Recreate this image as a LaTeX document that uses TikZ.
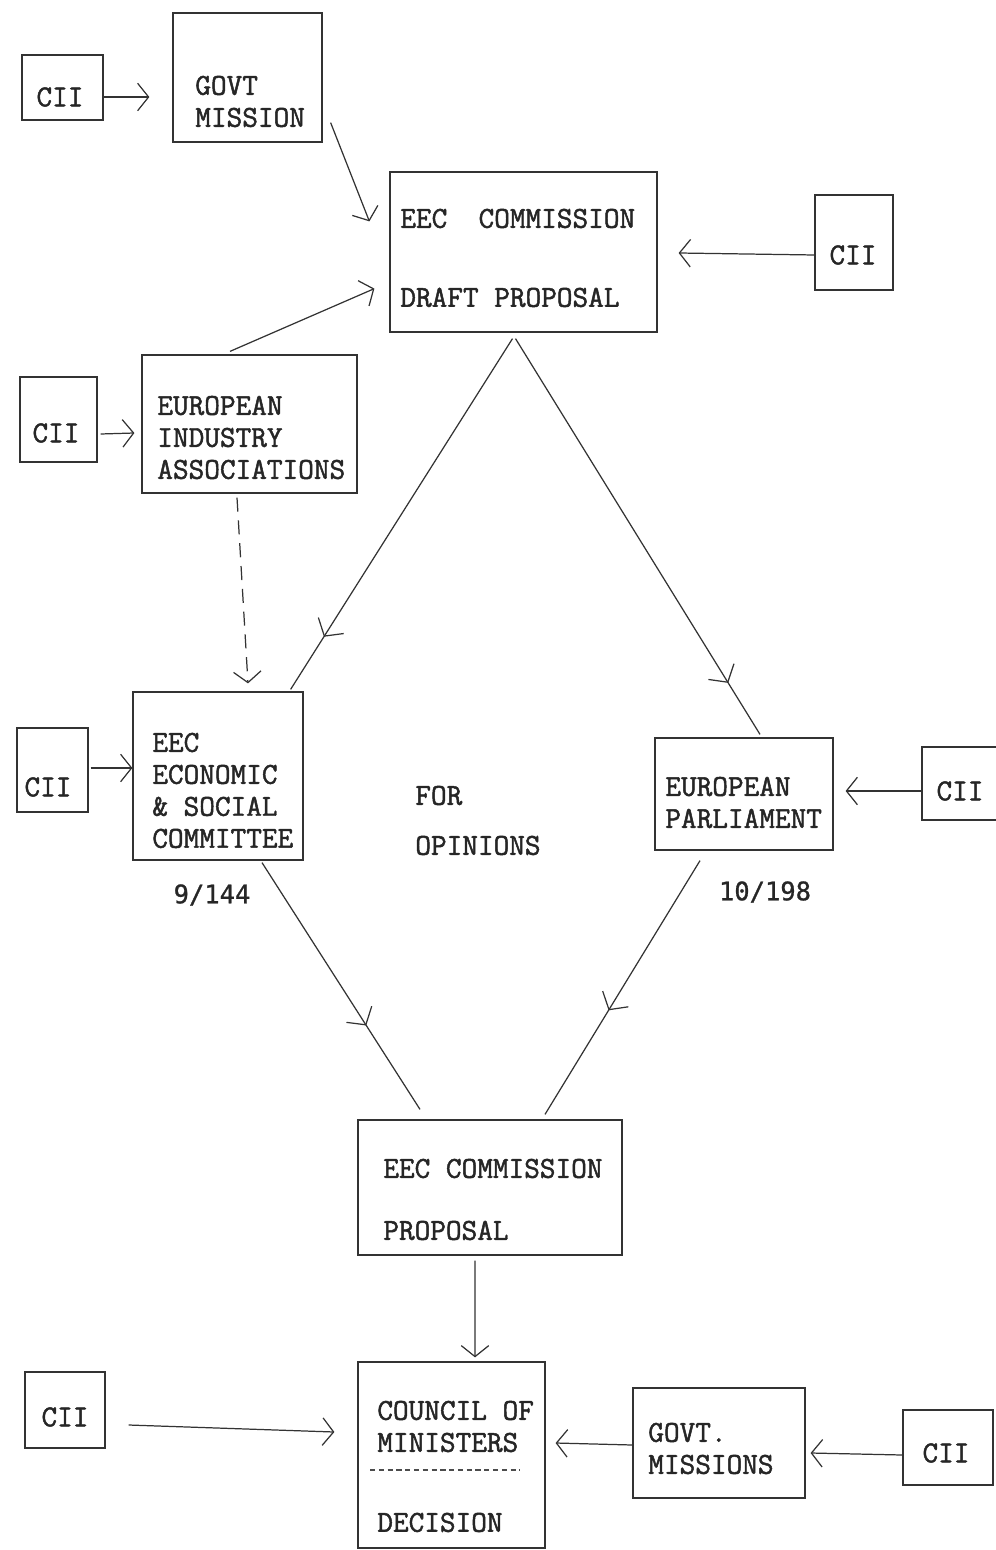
\documentclass[tikz,border=0pt]{standalone}
\usepackage{fontspec}
\newfontfamily\typefont{Latin Modern Mono}[FakeBold=1.6]
\newfontfamily\numfont{DejaVu Sans Mono}[FakeBold=1]
\usetikzlibrary{arrows.meta,calc,fit,decorations.markings}

\begin{document}
\begin{tikzpicture}[x=0.02cm, y=-0.02cm,
  box/.style={draw=black!80, line width=0.7pt, inner sep=0pt},
  txt/.style={font=\typefont\fontsize{17.3}{18.2}\selectfont, text=black!85, align=left, inner sep=0pt, anchor=north west},
  cii/.style={font=\typefont\fontsize{17.3}{18.2}\selectfont, text=black!85, inner sep=0pt},
  num/.style={font=\numfont\fontsize{14.5}{16}\selectfont, text=black!85, inner sep=0pt},
  arr/.style={draw=black!80, line width=0.7pt, -{Straight Barb[length=0.22cm, width=0.55cm]}},
  midarr/.style={draw=black!80, line width=0.7pt, postaction={decorate},
    decoration={markings, mark=at position #1 with {\arrow{Straight Barb[length=0.25cm, width=0.6cm]}}}}]
  \useasboundingbox (0,0) rectangle (995,1550);

  \node[box, fit={(22,55)(103,120)}] (cii1) {};
  \node[cii] (cii1t) at (60,97) {CII};
  \node[box, fit={(173,13)(322,142)}] (gov) {};
  \node[txt] (govt) at (195,75.5) {GOVT\\MISSION};

  \node[box, fit={(390,172)(657,332)}] (comm) {};
  \node[txt] (commt) at (400,208.5) {EEC~~COMMISSION\\[0.94cm]DRAFT PROPOSAL};
  \node[box, fit={(815,195)(893,290)}] (ciiA) {};
  \node[cii] (ciiAt) at (853,255) {CII};

  \node[box, fit={(142,355)(357,493)}] (assoc) {};
  \node[txt] (assoct) at (157,395.5) {EUROPEAN\\INDUSTRY\\ASSOCIATIONS};
  \node[box, fit={(20,377)(97,462)}] (cii2) {};
  \node[cii] (cii2t) at (56,433) {CII};

  \node[box, fit={(133,692)(303,860)}] (esc) {};
  \node[txt] (esct) at (152,732.5) {EEC\\ECONOMIC\\\&~SOCIAL\\COMMITTEE};
  \node[box, fit={(17,728)(88,812)}] (cii3) {};
  \node[cii] (cii3t) at (48,787) {CII};
  \node[num] (esc-n) at (212,895) {9/144};

  \node[txt] (opin) at (415,785.5) {FOR\\[0.36cm]OPINIONS};

  \node[box, fit={(655,738)(833,850)}] (ep) {};
  \node[txt] (ept) at (665,776.5) {EUROPEAN\\PARLIAMENT};
  \node[box, fit={(922,747)(1010,820)}] (cii4) {};
  \node[cii] (cii4t) at (960,791) {CII};
  \node[num] (ep-n) at (765,892) {10/198};

  \node[box, fit={(358,1120)(622,1255)}] (prop) {};
  \node[txt] (propt) at (383,1158.5) {EEC COMMISSION\\[0.6cm]PROPOSAL};

  \node[box, fit={(358,1362)(545,1548)}] (council) {};
  \node[txt] (councilt) at (377,1400.5) {COUNCIL OF\\MINISTERS\\[0.96cm]DECISION};
  \node[box, fit={(25,1372)(105,1448)}] (cii5) {};
  \node[cii] (cii5t) at (65,1417) {CII};
  \node[box, fit={(633,1388)(805,1498)}] (govs) {};
  \node[txt] (govst) at (648,1422.5) {GOVT.\\MISSIONS};
  \node[box, fit={(903,1410)(993,1485)}] (cii6) {};
  \node[cii] (cii6t) at (946,1453) {CII};

  \draw[black!70, line width=0.6pt, densely dashed] (370,1470) -- (520,1470);

  \draw[arr] ($(cii1.east)+(0,9.5)$) -- ($(gov.west)+(-23,19.5)$);
  \draw[arr] ($(gov.south east)+(8,-20)$) -- ($(comm.north west)+(-20,50)$);
  \draw[arr] ($(assoc.north)+(-19.5,-3)$) -- ($(comm.south west)+(-15,-44)$);
  \draw[arr] ($(ciiA.west)+(0,12.5)$) -- ($(comm.east)+(21,1)$);
  \draw[arr] ($(cii2.east)+(3,14.5)$) -- ($(assoc.west)+(-7,9)$);
  \draw[arr, dash pattern=on 8pt off 5pt] ($(assoc.south)+(-12.5,4)$) -- ($(esc.north)+(30,-8)$);
  \draw[midarr=0.85] ($(comm.south)+(-11,6)$) -- ($(esc.north east)+(-13,-2)$);
  \draw[midarr=0.87] ($(comm.south)+(-8,6)$) -- ($(ep.north)+(16,-3)$);
  \draw[arr] ($(cii3.east)+(2,-2)$) -- ($(esc.west)+(0,-8)$);
  \draw[arr] ($(cii4.west)+(0,7.5)$) -- ($(ep.east)+(12,-3)$);
  \draw[midarr=0.66] ($(esc.south)+(44,2)$) -- ($(prop.north)+(-70,-10)$);
  \draw[midarr=0.59] ($(ep.south)+(-44,10)$) -- ($(prop.north)+(55,-5)$);
  \draw[arr] ($(prop.south)+(-15,5)$) -- ($(council.north)+(23.5,-4)$);
  \draw[arr] ($(cii5.east)+(23,15)$) -- ($(council.west)+(-23,-23)$);
  \draw[arr] ($(govs.west)+(0,2)$) -- ($(council.east)+(10,-12)$);
  \draw[arr] ($(cii6.west)+(0,7.5)$) -- ($(govs.east)+(5,10)$);
\end{tikzpicture}
\end{document}
